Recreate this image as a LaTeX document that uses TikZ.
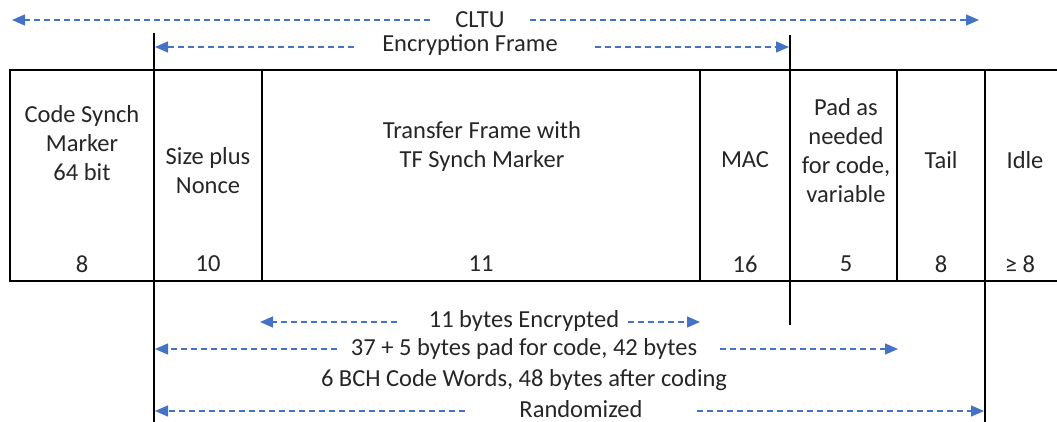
\documentclass[tikz,border=0pt]{standalone}
\usepackage{fontspec}
\setmainfont{Carlito}
\usetikzlibrary{arrows.meta}
\definecolor{arrowblue}{HTML}{4472C4}
\definecolor{inktext}{HTML}{262626}

\begin{document}
\begin{tikzpicture}[x=1pt,y=-1pt,
  frame/.style={line width=2.4pt, black},
  span/.style={arrowblue, line width=1.4pt, dash pattern=on 6pt off 4pt,
    -{Triangle[length=13pt,width=11pt]}},
  lbl/.style={text=inktext, font=\fontsize{24.5}{29}\selectfont, inner sep=0pt, align=center},
]
\useasboundingbox (0,0) rectangle (1057,422);

% --- frame of the CLTU layout ---
\coordinate (tl) at (10,70);
\coordinate (bl) at (10,281);
\coordinate (tr) at (1060,70);
\coordinate (br) at (1060,281);
\draw[frame] (tr) -- (tl) -- (bl) -- (br);

% field dividers (some run past the frame as span markers)
\coordinate (d1t) at (154,33);  \coordinate (d1b) at (154,423);
\coordinate (d2t) at (262,70);  \coordinate (d2b) at (262,281);
\coordinate (d3t) at (700,70);  \coordinate (d3b) at (700,281);
\coordinate (d4t) at (790,35);  \coordinate (d4b) at (790,325);
\coordinate (d5t) at (897,70);  \coordinate (d5b) at (897,281);
\coordinate (d6t) at (985,70);  \coordinate (d6b) at (985,423);
\foreach \d in {1,...,6} \draw[frame] (d\d t) -- (d\d b);

% --- field names ---
\node[lbl] (csm)  at (82,143)  {Code Synch\\Marker\\64 bit};
\node[lbl] (snc)  at (208,171) {Size plus\\Nonce};
\node[lbl] (tf)   at (482,146) {Transfer Frame with\\TF Synch Marker};
\node[lbl] (mac)  at (745,160) {MAC};
\node[lbl] (pad)  at (846,151) {Pad as\\needed\\for code,\\variable};
\node[lbl] (tail) at (941,160) {Tail};
\node[lbl] (idle) at (1025,160) {Idle};

% --- field sizes in bytes ---
\node[lbl] (n1) at (82,264)  {8};
\node[lbl] (n2) at (208,264) {10};
\node[lbl] (n3) at (481,264) {11};
\node[lbl] (n4) at (745,264) {16};
\node[lbl] (n5) at (846,264) {5};
\node[lbl] (n6) at (941,264) {8};
\node[lbl] (n7) at (1020,264) {≥ 8};

% --- spans above the frame ---
\node[lbl] (cltu) at (480,20) {CLTU};
\coordinate (cltuA) at (430,20); \coordinate (cltuL) at (12,20);
\coordinate (cltuB) at (530,20); \coordinate (cltuR) at (979,20);
\draw[span] (cltuA) -- (cltuL);
\draw[span] (cltuB) -- (cltuR);

\node[lbl] (ef) at (470,45) {Encryption Frame};
\coordinate (efA) at (354,47); \coordinate (efL) at (155,47);
\coordinate (efB) at (595,47); \coordinate (efR) at (789,47);
\draw[span] (efA) -- (efL);
\draw[span] (efB) -- (efR);

% --- spans below the frame ---
\node[lbl] (enc) at (524,321) {11 bytes Encrypted};
\coordinate (encA) at (397,322); \coordinate (encL) at (260,322);
\coordinate (encB) at (628,322); \coordinate (encR) at (700,322);
\draw[span] (encA) -- (encL);
\draw[span] (encB) -- (encR);

\node[lbl] (padded) at (524,349) {37 + 5 bytes pad for code, 42 bytes};
\coordinate (padA) at (337,349); \coordinate (padL) at (155,349);
\coordinate (padB) at (720,349); \coordinate (padR) at (898,349);
\draw[span] (padA) -- (padL);
\draw[span] (padB) -- (padR);

\node[lbl] (bch) at (524,380) {6 BCH Code Words, 48 bytes after coding};

\node[lbl] (rnd) at (581,409) {Randomized};
\coordinate (rndA) at (465,411); \coordinate (rndL) at (155,411);
\coordinate (rndB) at (697,411); \coordinate (rndR) at (984,411);
\draw[span] (rndA) -- (rndL);
\draw[span] (rndB) -- (rndR);
\end{tikzpicture}
\end{document}
